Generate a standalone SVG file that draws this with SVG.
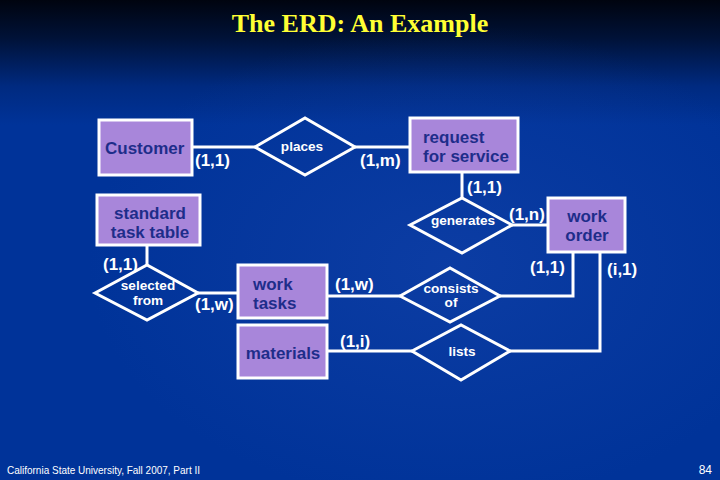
<svg xmlns="http://www.w3.org/2000/svg" width="720" height="480" viewBox="0 0 720 480">
<defs>
<linearGradient id="bg" x1="0" y1="0" x2="0" y2="1">
<stop offset="0" stop-color="#00040f"/>
<stop offset="0.08" stop-color="#001238"/>
<stop offset="0.18" stop-color="#002a80"/>
<stop offset="0.26" stop-color="#003399"/>
<stop offset="1" stop-color="#003399"/>
</linearGradient>
<radialGradient id="glow" cx="0.62" cy="0.55" r="0.5">
<stop offset="0" stop-color="#1a48b0" stop-opacity="0.45"/>
<stop offset="1" stop-color="#1a48b0" stop-opacity="0"/>
</radialGradient>
</defs>
<style>
.ent{fill:#a886da;stroke:#ffffff;stroke-width:3}
.rel{fill:none;stroke:#ffffff;stroke-width:3;stroke-linejoin:miter}
.ln{fill:none;stroke:#ffffff;stroke-width:3}
.et{font-family:"Liberation Sans",Arial,sans-serif;font-weight:bold;font-size:17px;fill:#1e2d8a}
.rt{font-family:"Liberation Sans",Arial,sans-serif;font-weight:bold;font-size:13.6px;fill:#ffffff;text-anchor:middle}
.ct{font-family:"Liberation Sans",Arial,sans-serif;font-weight:bold;font-size:17px;fill:#ffffff}
</style>
<rect x="0" y="0" width="720" height="480" fill="url(#bg)"/>
<rect x="0" y="0" width="720" height="480" fill="url(#glow)"/>
<text x="360" y="32" text-anchor="middle" font-family="Liberation Serif,'Times New Roman',serif" font-weight="bold" font-size="26" fill="#ffff33">The ERD: An Example</text>

<g id="connectors">
<line class="ln" x1="192" y1="147" x2="255" y2="147"/>
<line class="ln" x1="355" y1="147" x2="410" y2="147"/>
<line class="ln" x1="462" y1="172" x2="462" y2="198"/>
<line class="ln" x1="512" y1="225" x2="548" y2="225"/>
<polyline class="ln" points="573,252 573,296 500,296"/>
<polyline class="ln" points="600,252 600,351 510,351"/>
<line class="ln" x1="147" y1="245" x2="147" y2="265"/>
<line class="ln" x1="198" y1="293" x2="238" y2="293"/>
<line class="ln" x1="327" y1="296" x2="400" y2="296"/>
<line class="ln" x1="327" y1="351" x2="412" y2="351"/>
<text class="ct" x="195" y="166">(1,1)</text>
<text class="ct" x="360" y="166">(1,m)</text>
<text class="ct" x="467" y="193">(1,1)</text>
<text class="ct" x="509" y="220">(1,n)</text>
<text class="ct" x="103" y="270">(1,1)</text>
<text class="ct" x="195" y="310">(1,w)</text>
<text class="ct" x="335" y="290">(1,w)</text>
<text class="ct" x="340" y="347">(1,i)</text>
<text class="ct" x="530" y="273">(1,1)</text>
<text class="ct" x="607" y="275">(i,1)</text>
</g>

<g id="customer">
<rect class="ent" x="99" y="120" width="93" height="55"/>
<text class="et" x="105" y="154">Customer</text>
</g>
<g id="places">
<polygon class="rel" points="255,147 305,118 355,147 305,175"/>
<text class="rt" x="302" y="151">places</text>
</g>
<g id="request">
<rect class="ent" x="410" y="118" width="108" height="54"/>
<text class="et" x="423" y="143">request</text>
<text class="et" x="423" y="162">for service</text>
</g>
<g id="generates">
<polygon class="rel" points="410,225 462,198 512,225 462,253"/>
<text class="rt" x="463" y="225">generates</text>
</g>
<g id="work-order">
<rect class="ent" x="548" y="198" width="77" height="54"/>
<text class="et" x="587" y="222" text-anchor="middle">work</text>
<text class="et" x="587" y="241" text-anchor="middle">order</text>
</g>
<g id="standard-task-table">
<rect class="ent" x="97" y="195" width="103" height="50"/>
<text class="et" x="150" y="219" text-anchor="middle">standard</text>
<text class="et" x="150" y="238" text-anchor="middle">task table</text>
</g>
<g id="selected-from">
<polygon class="rel" points="95,293 147,265 198,293 147,320"/>
<text class="rt" x="148" y="290">selected</text>
<text class="rt" x="148" y="305">from</text>
</g>
<g id="work-tasks">
<rect class="ent" x="238" y="265" width="89" height="53"/>
<text class="et" x="253" y="290">work</text>
<text class="et" x="253" y="309">tasks</text>
</g>
<g id="materials">
<rect class="ent" x="238" y="325" width="89" height="53"/>
<text class="et" x="283" y="359" text-anchor="middle">materials</text>
</g>
<g id="consists-of">
<polygon class="rel" points="400,296 450,268 500,296 450,322"/>
<text class="rt" x="451" y="293">consists</text>
<text class="rt" x="451" y="307">of</text>
</g>
<g id="lists">
<polygon class="rel" points="412,351 461,325 510,351 461,380"/>
<text class="rt" x="462" y="356">lists</text>
</g>

<text x="7" y="474" font-family="Liberation Sans,Arial,sans-serif" font-size="10.5" fill="#ffffff" textLength="193" lengthAdjust="spacingAndGlyphs">California State University, Fall 2007, Part II</text>
<text x="712" y="474" text-anchor="end" font-family="Liberation Sans,Arial,sans-serif" font-size="12" fill="#ffffff">84</text>
</svg>
